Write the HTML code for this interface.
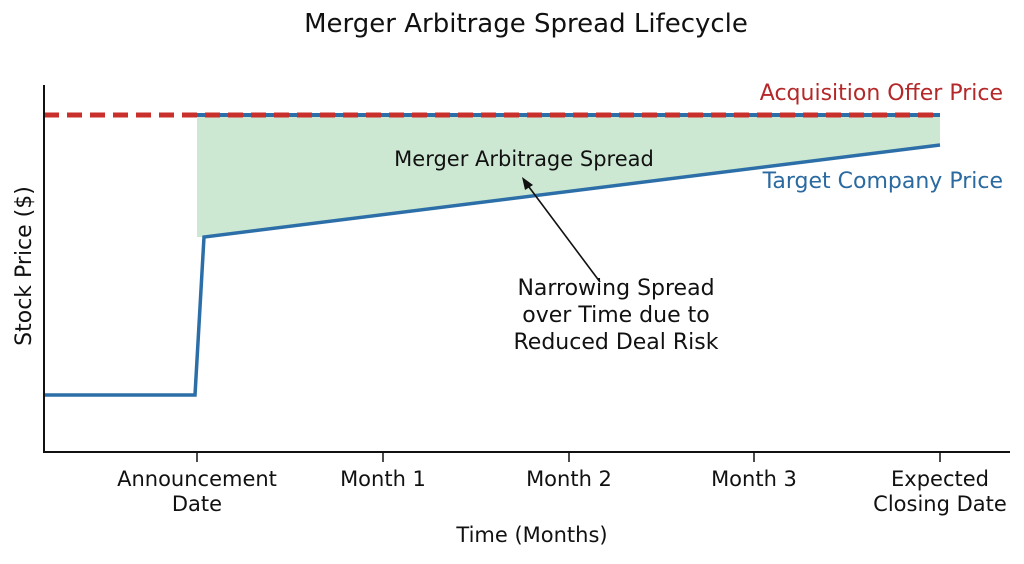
<!DOCTYPE html>
<html><head><style>
body{margin:0;background:#fff;}
svg text{font-family:"DejaVu Sans","Liberation Sans",sans-serif;}
</style></head><body>
<svg width="1024" height="559" viewBox="0 0 1024 559" xmlns="http://www.w3.org/2000/svg">
<rect width="1024" height="559" fill="#fff"/>
<text x="526" y="32" font-size="26" text-anchor="middle" fill="#111">Merger Arbitrage Spread Lifecycle</text>
<polygon points="197,115 940,115 940,145 204,237 197,237" fill="#cde8d2"/>
<line x1="197" y1="115" x2="940" y2="115" stroke="#2c6fa8" stroke-width="4"/>
<line x1="44" y1="115" x2="940" y2="115" stroke="#c9302c" stroke-width="5" stroke-dasharray="15,8"/>
<polyline points="45,395 195,395 204,237 940,145" fill="none" stroke="#2c6fa8" stroke-width="3.5"/>
<line x1="44" y1="85" x2="44" y2="453" stroke="#111" stroke-width="2"/>
<line x1="44" y1="452" x2="1010" y2="452" stroke="#111" stroke-width="2"/>
<g stroke="#111" stroke-width="1.5">
<line x1="197" y1="452" x2="197" y2="462"/><line x1="383" y1="452" x2="383" y2="462"/>
<line x1="569" y1="452" x2="569" y2="462"/><line x1="754" y1="452" x2="754" y2="462"/>
<line x1="940" y1="452" x2="940" y2="462"/></g>
<text x="1003" y="100" font-size="22" text-anchor="end" fill="#b5282a">Acquisition Offer Price</text>
<text x="1003" y="188" font-size="22" text-anchor="end" fill="#2a6aa0">Target Company Price</text>
<text x="524" y="166" font-size="21" text-anchor="middle" fill="#111">Merger Arbitrage Spread</text>
<line x1="600" y1="282" x2="526" y2="183" stroke="#111" stroke-width="1.6"/>
<polygon points="522,177 533,185 525,190" fill="#111"/>
<g font-size="22" text-anchor="middle" fill="#111">
<text x="616" y="295">Narrowing Spread</text>
<text x="616" y="322">over Time due to</text>
<text x="616" y="349">Reduced Deal Risk</text>
</g>
<g font-size="21" text-anchor="middle" fill="#111">
<text x="197" y="486">Announcement</text><text x="197" y="511">Date</text>
<text x="383" y="486">Month 1</text><text x="569" y="486">Month 2</text><text x="754" y="486">Month 3</text>
<text x="940" y="486">Expected</text><text x="940" y="511">Closing Date</text>
<text x="532" y="542">Time (Months)</text>
</g>
<text transform="translate(31,266) rotate(-90)" font-size="22" text-anchor="middle" fill="#111">Stock Price ($)</text>
</svg>
</body></html>
